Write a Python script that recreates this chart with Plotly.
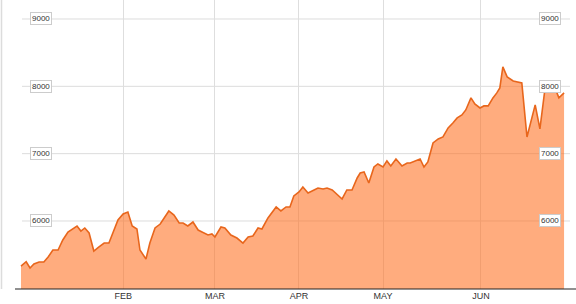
import plotly.graph_objects as go

# session index (trading-day position) and index level
sessions = [0.0, 1.2, 2.1, 3.0, 4.2, 5.3, 6.3, 7.4, 8.6, 9.7, 10.9, 12.1, 13.0, 13.9, 14.8,
            15.8, 16.9, 18.1, 19.3, 20.4, 21.6, 22.5, 23.7, 24.8, 25.8, 26.9, 27.6, 29.0,
            29.9, 31.1, 32.3, 33.2, 34.3, 35.5, 36.7, 37.6, 38.7, 39.9, 41.1, 42.0, 43.4,
            44.3, 45.0, 46.4, 47.3, 48.7, 50.1, 51.5, 52.7, 53.8, 55.0, 55.9, 57.3, 59.2,
            60.3, 61.5, 62.4, 63.3, 64.5, 65.4, 66.6, 68.0, 68.9, 70.1, 71.0, 72.2, 73.3,
            74.5, 75.6, 76.8, 78.0, 78.7, 79.6, 80.7, 81.9, 82.8, 84.0, 84.9, 85.8, 87.0,
            88.4, 89.6, 90.3, 91.4, 92.6, 93.5, 94.4, 95.6, 96.8, 97.9, 99.1, 100.2, 101.2,
            102.3, 103.2, 104.4, 105.3, 106.5, 107.4, 108.4, 109.5, 110.4, 111.1, 111.8,
            112.8, 114.2, 116.2, 117.4, 119.3, 120.4, 121.6, 122.7, 123.9, 124.8, 126.0]
levels = [5331, 5395, 5302, 5361, 5391, 5391, 5465, 5569, 5569, 5718, 5837, 5881, 5926, 5851, 5896,
          5822, 5554, 5614, 5673, 5673, 5866, 6015, 6104, 6134, 5926, 5881, 5569, 5435,
          5673, 5896, 5955, 6045, 6149, 6089, 5970, 5970, 5926, 5985, 5866, 5837, 5792,
          5807, 5762, 5911, 5896, 5792, 5747, 5673, 5762, 5777, 5896, 5881, 6045, 6208,
          6149, 6208, 6208, 6372, 6431, 6505, 6416, 6461, 6490, 6476, 6490, 6461, 6401,
          6327, 6461, 6461, 6639, 6713, 6728, 6565, 6802, 6847, 6802, 6892, 6817, 6921,
          6817, 6862, 6862, 6892, 6921, 6802, 6877, 7159, 7219, 7248, 7382, 7456, 7531,
          7575, 7649, 7828, 7739, 7679, 7709, 7709, 7828, 7902, 7976, 8288,
          8140, 8080, 8051, 7248, 7724, 7367, 7976, 7947, 7976, 7828, 7902]

month_pos = [23.7, 45.0, 64.5, 84.0, 106.7]
month_labels = ["FEB", "MAR", "APR", "MAY", "JUN"]
y_ticks = [6000, 7000, 8000, 9000]
y_tick_labels = ["6000", "7000", "8000", "9000"]

fig = go.Figure()
fig.add_trace(go.Scatter(
    x=sessions, y=levels, mode="lines",
    line=dict(color="#e8661c", width=1.6),
    fill="tozeroy", fillcolor="rgba(255,112,32,0.58)",
    hoverinfo="skip", showlegend=False,
))

shapes = []
for v in y_ticks:
    shapes.append(dict(type="line", xref="paper", yref="y", x0=22/576, x1=570/576,
                       y0=v, y1=v, line=dict(color="#dcdcdc", width=1), layer="below"))
# left border line
shapes.append(dict(type="line", xref="paper", yref="paper", x0=1.5/576, x1=1.5/576,
                   y0=0, y1=1, line=dict(color="#dcdcdc", width=1.5), layer="below"))
# baseline
shapes.append(dict(type="line", xref="paper", yref="paper", x0=15/576, x1=1,
                   y0=0, y1=0, line=dict(color="#222222", width=1.2), layer="above"))

annotations = []
for v, t in zip(y_ticks, y_tick_labels):
    for xp in (40.5/576, 549.5/576):
        annotations.append(dict(x=xp, xref="paper", y=v, yref="y", text=t,
                                showarrow=False, font=dict(size=8, color="#333333",
                                family="Liberation Sans, Arial, sans-serif"),
                                bgcolor="white", bordercolor="#cccccc", borderwidth=1,
                                borderpad=1, xanchor="center", yanchor="middle"))

fig.update_layout(
    width=576, height=304,
    margin=dict(l=0, r=0, t=0, b=15),
    paper_bgcolor="white", plot_bgcolor="white",
    shapes=shapes, annotations=annotations,
    font=dict(family="Liberation Sans, Arial, sans-serif", color="#333333"),
    xaxis=dict(range=[-4.87, 128.77], tickvals=month_pos, ticktext=month_labels,
               showgrid=True, gridcolor="#dedede", gridwidth=1, zeroline=False,
               showline=False, ticks="", tickfont=dict(size=9, color="#333333"),
               fixedrange=True),
    yaxis=dict(range=[4990, 9282], showgrid=False, zeroline=False, showline=False,
               showticklabels=False, fixedrange=True),
)

fig.write_html("out.html")
